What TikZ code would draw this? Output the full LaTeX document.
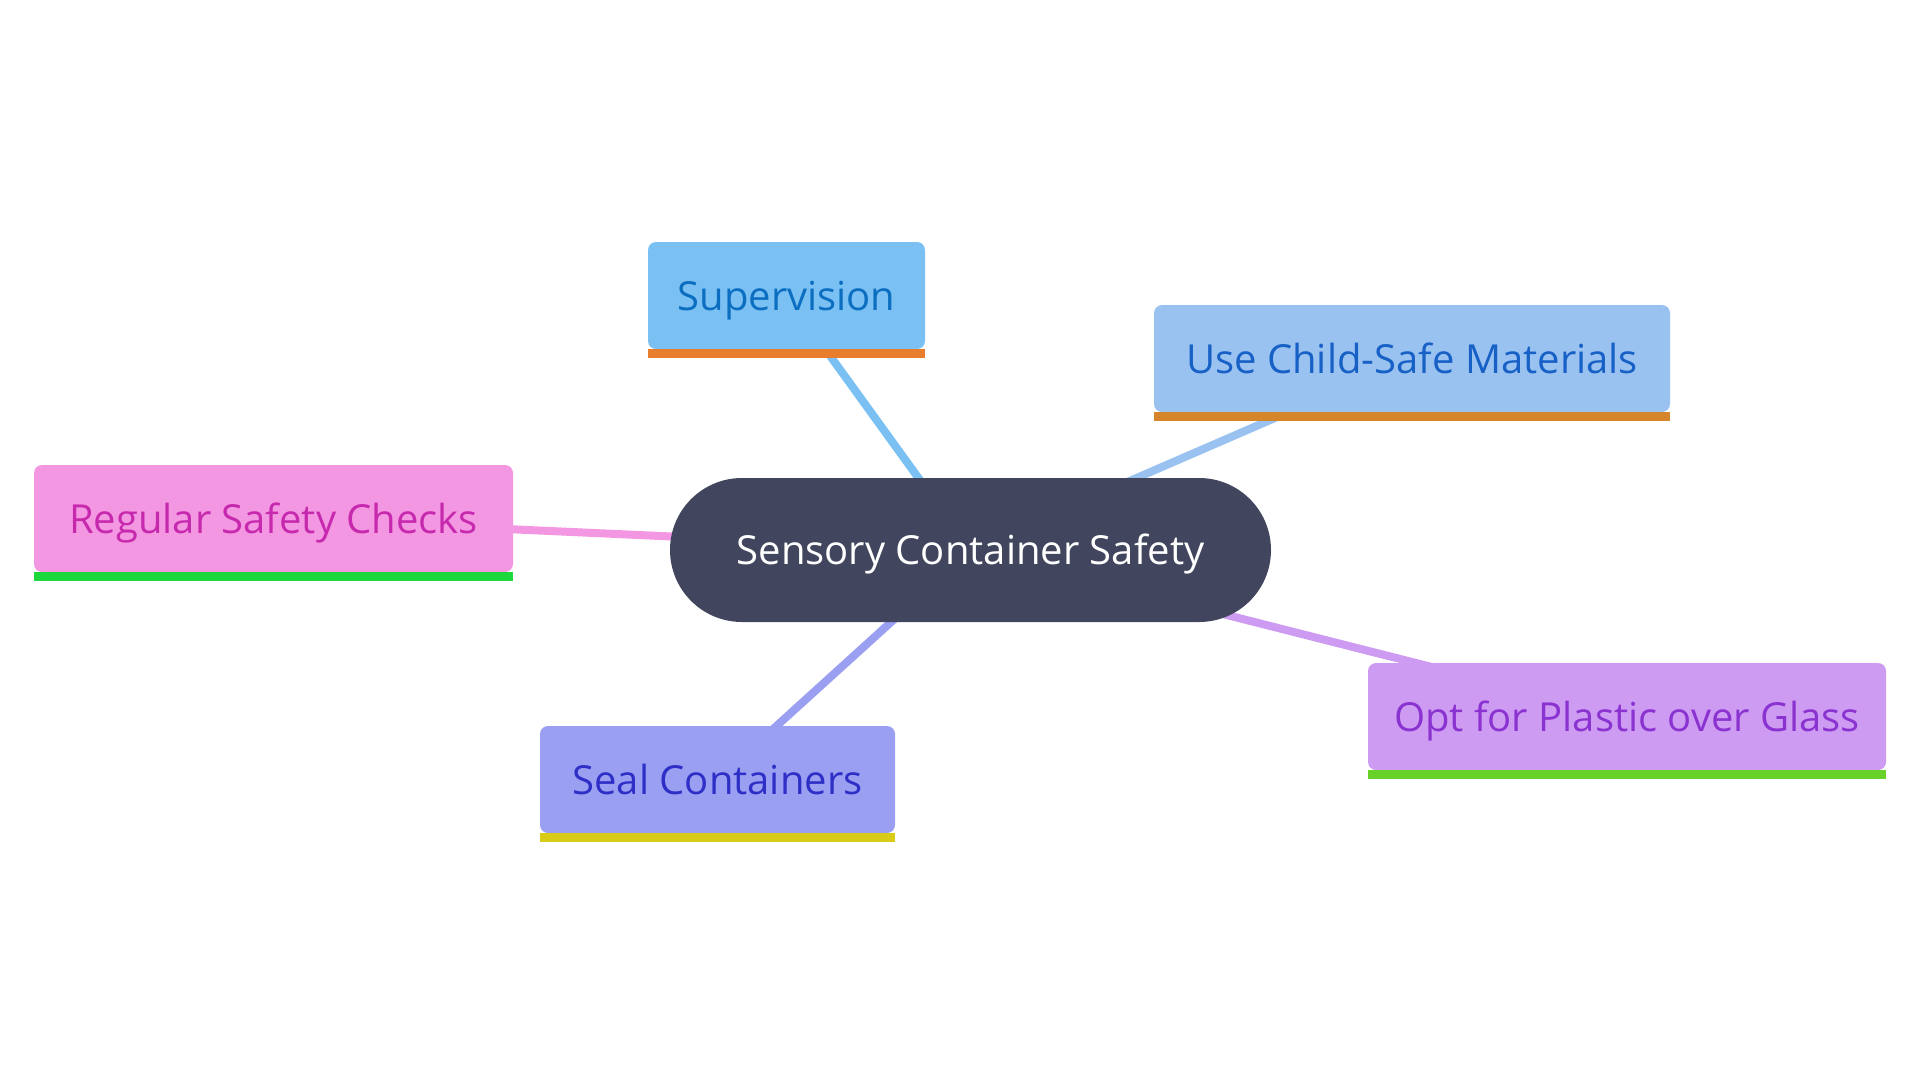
\documentclass[tikz,border=0pt]{standalone}
\usepackage{fontspec}
\setmainfont{Open Sans}
\usetikzlibrary{backgrounds}

\definecolor{hubfill}{HTML}{41465E}
\definecolor{supfill}{HTML}{7BC0F3}
\definecolor{suptext}{HTML}{0B6EC0}
\definecolor{supbar}{HTML}{E87D2C}
\definecolor{matfill}{HTML}{9AC2F0}
\definecolor{mattext}{HTML}{1760C6}
\definecolor{matbar}{HTML}{D6862A}
\definecolor{chkfill}{HTML}{F497E2}
\definecolor{chktext}{HTML}{C629AE}
\definecolor{chkbar}{HTML}{1CD83D}
\definecolor{sealfill}{HTML}{9B9FF2}
\definecolor{sealtext}{HTML}{2D2FC6}
\definecolor{sealbar}{HTML}{D8CC18}
\definecolor{optfill}{HTML}{CE9BF2}
\definecolor{opttext}{HTML}{8A33D0}
\definecolor{optbar}{HTML}{68D12A}

\begin{document}
\begin{tikzpicture}[x=1pt, y=-1pt,
        topic/.style={rectangle, rounded corners=8pt, minimum height=107pt, inner sep=0pt, text depth=0pt, text height=29pt, font=\fontsize{40}{47}\selectfont},
        hub/.style={rectangle, rounded corners=72pt, fill=hubfill, text=white, minimum width=601pt, minimum height=144pt, inner sep=0pt, text depth=0pt, text height=29pt, font=\fontsize{40}{47}\selectfont},
        link/.style={line width=8pt}]
        \useasboundingbox (0,0) rectangle (1920,1080);

        \node[hub] (hub) at (970.5,550) {Sensory Container Safety};

        \node[topic, fill=supfill, text=suptext, minimum width=277pt] (supervision) at (786.5,295.5) {Supervision};
        \node[topic, fill=matfill, text=mattext, minimum width=516pt] (materials) at (1412,358.5) {Use Child-Safe Materials};
        \node[topic, fill=chkfill, text=chktext, minimum width=479pt] (checks) at (273.5,518.5) {Regular Safety Checks};
        \node[topic, fill=sealfill, text=sealtext, minimum width=355pt] (seal) at (717.5,779.5) {Seal Containers};
        \node[topic, fill=optfill, text=opttext, minimum width=518pt] (plastic) at (1627,716.5) {Opt for Plastic over Glass};

        % coloured bars under the topics
        \fill[supbar] (supervision.south west) rectangle ([yshift=-9pt]supervision.south east);
        \fill[matbar] (materials.south west) rectangle ([yshift=-9pt]materials.south east);
        \fill[chkbar] (checks.south west) rectangle ([yshift=-9pt]checks.south east);
        \fill[sealbar] (seal.south west) rectangle ([yshift=-9pt]seal.south east);
        \fill[optbar] (plastic.south west) rectangle ([yshift=-9pt]plastic.south east);

        \begin{pgfonlayer}{background}
            \draw[link, supfill] (hub.center) -- (supervision.center);
            \draw[link, matfill] (hub.center) -- (materials.center);
            \draw[link, chkfill] (hub.center) -- (checks.center);
            \draw[link, sealfill] (hub.center) -- (seal.center);
            \draw[link, optfill] (hub.center) -- (plastic.center);
        \end{pgfonlayer}
    \end{tikzpicture}
\end{document}
